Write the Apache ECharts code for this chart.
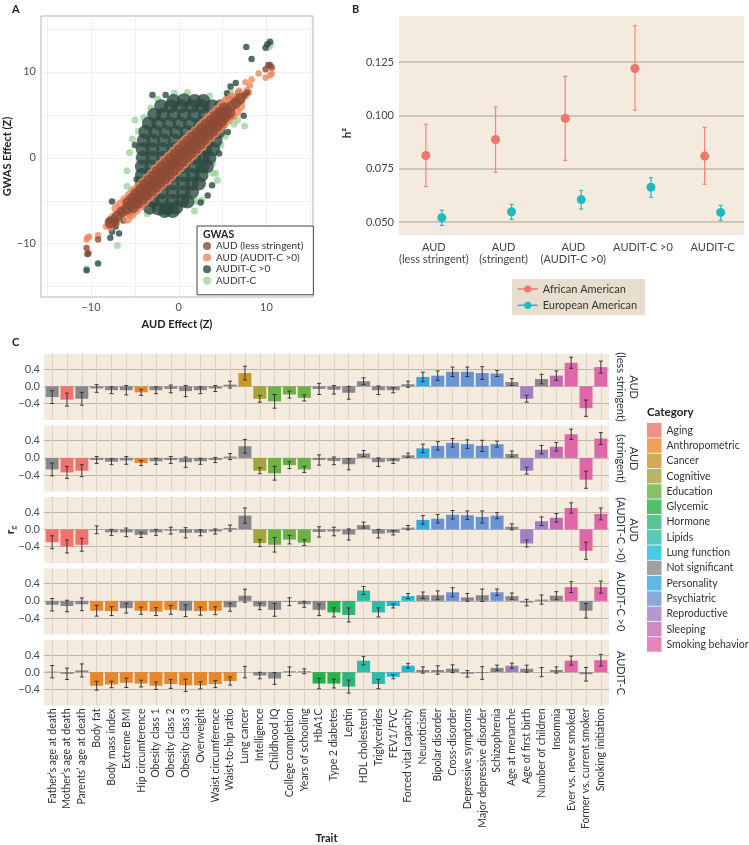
<!DOCTYPE html>
<html>
<head>
<meta charset="utf-8">
<script src="https://cdn.jsdelivr.net/npm/echarts@6.0.0/dist/echarts.min.js"></script>
<style>
html, body { margin: 0; padding: 0; background: #fff; }
#main { width: 749px; height: 845px; }
</style>
</head>
<body>
<div id="main"></div>
<script>
// ---- panel A: GWAS effect vs AUD effect ----
var auditCPts = [[-5,4.4],[-4,4.7],[-4.6,3.1],[-2.4,6.8],[-3.2,5.8],[-5.3,2.2],[-5.6,0.6],[3.9,-1.8],[4.2,-1.8],
  [3.9,-0.6],[2.6,-4.9],[2,-5.1],[-5.9,-3.3],[-5.4,-3.7],[6.3,3.9],[6.7,4.4],[5.9,7.7],[5.6,6],[6.2,5.2],[3.5,7.2],
  [1,7.6],[-0.5,7.5],[-5.8,-5.5],[-3.6,-6.5],[1.8,-6.2],[4.8,1.5],[5.3,2.5],[-7,-10.2],[-10.5,-12.9],[10.5,13.2],
  [10.3,12.9],[7.1,6.8],[7.5,3.7],[-6.6,-6.8],[-5.9,-1.5],[4.4,-2.6]];
var auditC0Core = [[-0.6,6.6],[0.6,6.7],[1.8,6.6],[2.8,6.6],
  [-2,6],[-0.9,6],[0.3,6],[1.5,6],[2.7,6],[3.8,6],[4.8,6],
  [-2.8,5],[-1.8,5],[-0.6,5],[0.6,5],[1.8,5],[3,5],[4.2,5],[5,5],
  [-3.4,4],[-2.3,4],[-1.1,4],[0.1,4],[1.3,4],[2.5,4],[3.7,4],[4.8,4],
  [-3.8,3],[-2.7,3],[-1.5,3],[-0.3,3],[0.9,3],[2.1,3],[3.3,3],[4.5,3],
  [-4,2],[-2.9,2],[-1.7,2],[-0.5,2],[0.7,2],[1.9,2],[3.1,2],[4.2,2],
  [-4.1,1],[-3,1],[-1.8,1],[-0.6,1],[0.6,1],[1.8,1],[3,1],[3.9,1],
  [-4.1,0],[-3,0],[-1.8,0],[-0.6,0],[0.6,0],[1.8,0],[2.8,0],[3.5,0],
  [-4.2,-1],[-3.1,-1],[-1.9,-1],[-0.7,-1],[0.5,-1],[1.7,-1],[2.7,-1],[3.2,-1],
  [-4.2,-2],[-3.1,-2],[-1.9,-2],[-0.7,-2],[0.5,-2],[1.6,-2],[2.6,-2],
  [-4.2,-3],[-3.1,-3],[-1.9,-3],[-0.7,-3],[0.5,-3],[1.5,-3],[2.3,-3],
  [-4.2,-4],[-3.1,-4],[-1.9,-4],[-0.7,-4],[0.5,-4],[1.5,-4],
  [-4.1,-5],[-3,-5],[-1.9,-5],[-0.7,-5],[0.4,-5],[1,-5.1],
  [-3.3,-5.8],[-2.3,-5.9],[-1.3,-5.9],[-0.3,-5.8],
  [-1.6,-6.2],[-0.7,-6.2]];
var auditC0Sparse = [[-5.8,-5.6],[-6.5,-6.2],[-7.6,-5.1],[-7.8,-9.3],[-7.6,-8.6],[-7.2,-8],[-6.8,-8.8],[-6.3,-7.3],
  [-5.6,-6.5],[-10.5,-13.1],[-9.2,-12.3],[-10.4,-11.2],[6.5,8.7],[5.9,8.3],[7.4,4.9],[7.7,12.9],[8.3,11.5],[9.9,12.8],
  [10.1,13.2],[10.4,13.5],[5.5,7.5],[6.8,7.6],[5.6,7],[6.2,6.8],[-5.5,-5.9],[3.3,-4.4],[3.8,-3.2],[-3,7.3],[6,4.8],
  [-4.8,-5.6],[-5,1.5],[-4.8,-2.5],[4.6,0.5],[5.6,3],[-1.5,7.3],[2.5,-5.2]];
var audAuditC0Band = [[-7.1,-5.9],[-5.9,-7.1],[-6.6,-5.4],[-5.4,-6.6],[-6.1,-4.9],[-4.9,-6.1],[-5.6,-4.4],[-4.4,-5.6],
  [-5.1,-3.9],[-3.9,-5.1],[-4.6,-3.4],[-3.4,-4.6],[-4.1,-2.9],[-2.9,-4.1],[-3.6,-2.4],[-2.4,-3.6],
  [-3.1,-1.9],[-1.9,-3.1],[-2.65,-1.35],[-1.35,-2.65],[-2.15,-0.85],[-0.85,-2.15],[-1.65,-0.35],[-0.35,-1.65],
  [-1.15,0.15],[0.15,-1.15],[-0.65,0.65],[0.65,-0.65],[-0.15,1.15],[1.15,-0.15],[0.35,1.65],[1.65,0.35],
  [0.85,2.15],[2.15,0.85],[1.35,2.65],[2.65,1.35],[1.9,3.1],[3.1,1.9],[2.4,3.6],[3.6,2.4],
  [2.9,4.1],[4.1,2.9],[3.4,4.6],[4.6,3.4],[3.9,5.1],[5.1,3.9],[4.4,5.6],[5.6,4.4],
  [4.9,6.1],[6.1,4.9],[5.4,6.6],[6.6,5.4],[6,7],[7,6],
  [-7.5,-7],[-7.8,-7.6],[7,6.6],[6.7,7.1],[7.5,7.3]];
var audAuditC0Sparse = [[-10.4,-9.3],[-10.5,-9.5],[-10.2,-9.2],[-9.2,-9],[9.1,9.8],[9.9,9.3],[10.4,9.6],[10.6,9.8],
  [8.3,9.1],[7.6,8.8],[8.1,8.4],[7.8,7.9],[6.9,7.8],[-7.8,-8.2],[-8.1,-7.4],[-7,-7.6],[8,7.6],[-8.3,-8]];
var audLessBand = [[-6,-6],[-5.5,-5.5],[-5,-5],[-4.5,-4.5],[-4,-4],[-3.5,-3.5],[-3,-3],[-2.5,-2.5],[-2,-2],
  [-1.5,-1.5],[-1,-1],[-0.5,-0.5],[0,0],[0.5,0.5],[1,1],[1.5,1.5],[2,2],[2.5,2.5],[3,3],[3.5,3.5],[4,4],
  [4.5,4.5],[5,5],[5.5,5.5],[6,6],
  [-5.8,-5.2],[-5.2,-5.8],[-5.3,-4.7],[-4.7,-5.3],[-4.85,-4.15],[-4.15,-4.85],[-4.35,-3.65],[-3.65,-4.35],
  [-3.9,-3.1],[-3.1,-3.9],[-3.4,-2.6],[-2.6,-3.4],[-2.9,-2.1],[-2.1,-2.9],[-2.45,-1.55],[-1.55,-2.45],
  [-1.95,-1.05],[-1.05,-1.95],[-1.45,-0.55],[-0.55,-1.45],[-0.95,-0.05],[-0.05,-0.95],[-0.45,0.45],[0.45,-0.45],
  [0.05,0.95],[0.95,0.05],[0.55,1.45],[1.45,0.55],[1.05,1.95],[1.95,1.05],[1.55,2.45],[2.45,1.55],
  [2.1,2.9],[2.9,2.1],[2.6,3.4],[3.4,2.6],[3.1,3.9],[3.9,3.1],[3.65,4.35],[4.35,3.65],
  [4.15,4.85],[4.85,4.15],[4.7,5.3],[5.3,4.7],[5.2,5.8],[5.8,5.2],
  [-6.5,-6.3],[-7,-6.8],[-7.4,-7.3],[-7.8,-7.6],[6.5,6.4],[7,6.9]];
var audLessSparse = [[-10.5,-10.5],[-10.3,-11.1],[-9.2,-9.5],[9.9,10.3],[10.2,10.8],[10.4,10.8],[10.6,10.5],
  [-7.9,-7.2],[-7.2,-7.6],[7.5,7.3],[7.8,7.6]];

// ---- panel B: SNP heritability ----
var h2Groups = ['AUD\n(less stringent)', 'AUD\n(stringent)', 'AUD\n(AUDIT-C >0)', 'AUDIT-C >0', 'AUDIT-C'];
var h2African = [0.0812, 0.0887, 0.0986, 0.1220, 0.0809];
var h2AfricanLo = [0.0666, 0.0733, 0.0789, 0.1025, 0.0677];
var h2AfricanHi = [0.0958, 0.1040, 0.1183, 0.1420, 0.0944];
var h2European = [0.0520, 0.0548, 0.0605, 0.0663, 0.0545];
var h2EuropeanLo = [0.0484, 0.0512, 0.0561, 0.0616, 0.0508];
var h2EuropeanHi = [0.0555, 0.0583, 0.0648, 0.0708, 0.0578];
var h2Ticks = [0.05, 0.075, 0.1, 0.125];

// ---- panel C: genetic correlations ----
var traits = ['Father’s age at death','Mother’s age at death','Parents’ age at death','Body fat','Body mass index',
  'Extreme BMI','Hip circumference','Obesity class 1','Obesity class 2','Obesity class 3','Overweight',
  'Waist circumference','Waist-to-hip ratio','Lung cancer','Intelligence','Childhood IQ','College completion',
  'Years of schooling','HbA1C','Type 2 diabetes','Leptin','HDL cholesterol','Triglycerides','FEV1/FVC',
  'Forced vital capacity','Neuroticism','Bipolar disorder','Cross-disorder','Depressive symptoms',
  'Major depressive disorder','Schizophrenia','Age at menarche','Age of first birth','Number of children',
  'Insomnia','Ever vs. never smoked','Former vs. current smoker','Smoking initiation'];
var gwasRows = ['AUD\n(less stringent)', 'AUD\n(stringent)', 'AUD\n(AUDIT-C >0)', 'AUDIT-C >0', 'AUDIT-C'];
var categories = ['Aging','Anthropometric','Cancer','Cognitive','Education','Glycemic','Hormone','Lipids',
  'Lung function','Not significant','Personality','Psychiatric','Reproductive','Sleeping','Smoking behavior'];
var categoryColors = ['#ef746d','#e8882c','#c8962d','#a3a53b','#6bb145','#26b24b','#31b57d','#2ebcaa',
  '#1dbcdc','#89898d','#36a8e0','#6b94d5','#9f80c5','#c36bb4','#e066a7'];
// one letter per category, same order as above
var categoryCodes = 'ancgeyhlfxpsrzk';

var rg1 = [-0.25,-0.31,-0.29,-0.05,-0.09,-0.09,-0.14,-0.09,-0.06,-0.11,-0.09,-0.05,0.04,0.31,-0.29,-0.35,-0.19,-0.27,
  -0.06,-0.08,-0.15,0.12,-0.09,-0.09,0.05,0.22,0.25,0.34,0.34,0.31,0.30,0.10,-0.29,0.17,0.25,0.55,-0.51,0.45];
var se1 = [0.15,0.15,0.15,0.09,0.08,0.11,0.07,0.08,0.09,0.13,0.08,0.07,0.08,0.16,0.08,0.16,0.08,0.07,
  0.13,0.10,0.15,0.08,0.10,0.06,0.07,0.11,0.11,0.11,0.11,0.15,0.07,0.08,0.08,0.11,0.11,0.13,0.19,0.14];
var cat1 = 'xaxxxxnxxxxxxcgeeexxxxxxxpsssssxrxzkkk';

var rg2 = [-0.27,-0.34,-0.30,-0.05,-0.09,-0.06,-0.12,-0.08,-0.05,-0.10,-0.08,-0.05,0.03,0.27,-0.30,-0.36,-0.17,-0.27,
  -0.05,-0.07,-0.15,0.10,-0.10,-0.08,0.06,0.22,0.28,0.35,0.32,0.28,0.32,0.09,-0.30,0.19,0.26,0.55,-0.51,0.45];
var se2 = [0.15,0.14,0.14,0.08,0.07,0.09,0.06,0.07,0.08,0.12,0.07,0.06,0.07,0.16,0.07,0.16,0.08,0.07,
  0.12,0.09,0.13,0.07,0.10,0.05,0.05,0.10,0.10,0.10,0.10,0.13,0.07,0.07,0.08,0.10,0.10,0.12,0.20,0.14];
var cat2 = 'xaaxxxnxxxxxxxgeeexxxxxxxpsssssxrrzkkk';

var rg3 = [-0.30,-0.40,-0.36,-0.01,-0.07,-0.07,-0.13,-0.07,-0.03,-0.08,-0.08,-0.05,0.03,0.32,-0.32,-0.36,-0.24,-0.31,
  -0.06,-0.05,-0.12,0.10,-0.10,-0.08,0.04,0.22,0.25,0.34,0.33,0.29,0.32,0.06,-0.33,0.19,0.27,0.50,-0.50,0.36];
var se3 = [0.15,0.15,0.15,0.09,0.07,0.10,0.06,0.07,0.08,0.12,0.07,0.06,0.07,0.18,0.08,0.17,0.10,0.07,
  0.12,0.10,0.13,0.07,0.10,0.05,0.05,0.10,0.10,0.10,0.10,0.14,0.07,0.07,0.08,0.10,0.10,0.12,0.20,0.14];
var cat3 = 'aaaxxxxxxxxxxxgeeexxxxxxxpsssssxrrzkkk';

var rg4 = [-0.09,-0.12,-0.08,-0.23,-0.24,-0.17,-0.23,-0.25,-0.21,-0.23,-0.24,-0.23,-0.15,0.12,-0.13,-0.21,-0.02,-0.08,
  -0.21,-0.27,-0.33,0.24,-0.27,-0.12,0.11,0.13,0.13,0.20,0.08,0.13,0.20,0.11,-0.04,0.03,0.12,0.32,-0.23,0.32];
var se4 = [0.145,0.134,0.149,0.126,0.103,0.115,0.084,0.092,0.103,0.137,0.095,0.092,0.092,0.153,0.076,0.149,0.092,0.069,
  0.134,0.107,0.164,0.095,0.107,0.046,0.061,0.076,0.103,0.107,0.092,0.145,0.076,0.073,0.076,0.107,0.095,0.126,0.168,0.141];
var cat4 = 'xxxnnxnnnxnnxxxxxxxyhllffxxsxxsxxxxkxk';

var rg5 = [0.01,-0.04,0.04,-0.32,-0.29,-0.25,-0.27,-0.32,-0.28,-0.31,-0.31,-0.28,-0.21,0.00,-0.08,-0.15,0.02,0.02,
  -0.27,-0.27,-0.34,0.27,-0.28,-0.11,0.15,0.05,0.05,0.08,-0.04,-0.02,0.10,0.15,0.08,0.00,0.05,0.27,-0.05,0.28];
var se5 = [0.145,0.134,0.153,0.103,0.076,0.111,0.080,0.088,0.103,0.145,0.084,0.084,0.095,0.134,0.076,0.137,0.103,0.057,
  0.122,0.103,0.153,0.099,0.111,0.046,0.057,0.073,0.099,0.092,0.076,0.149,0.065,0.061,0.084,0.107,0.073,0.107,0.160,0.137];
var cat5 = 'xxxnnnnnnnnnnxxxxxyyhllffxxxxxxrxxxkxk';

var rgTicks = [-0.4, 0, 0.4];

var rgRows = [rg1, rg2, rg3, rg4, rg5];
var seRows = [se1, se2, se3, se4, se5];
var catRows = [cat1, cat2, cat3, cat4, cat5];

var chart = echarts.init(document.getElementById('main'));
var FONT = 'Lato';

var minus = function (s) { return String(s).replace('-', '\u2212'); };

// error bar drawn through the axis scales
var errorBar = function (offset, capW, color, width) {
	return function (params, api) {
		var p1 = api.coord([api.value(0), api.value(1)]);
		var p2 = api.coord([api.value(0), api.value(2)]);
		var cx = p1[0] + offset;
		var st = { stroke: color, lineWidth: width };
		return {
			type: 'group',
			children: [
				{ type: 'line', shape: { x1: cx, y1: p1[1], x2: cx, y2: p2[1] }, style: st },
				{ type: 'line', shape: { x1: cx - capW, y1: p1[1], x2: cx + capW, y2: p1[1] }, style: st },
				{ type: 'line', shape: { x1: cx - capW, y1: p2[1], x2: cx + capW, y2: p2[1] }, style: st }
			]
		};
	};
};

var grids = [
	{ left: 41, top: 16, width: 272, height: 281, show: true, backgroundColor: '#fff', borderColor: '#b3b3b3', borderWidth: 1 },
	{ left: 399, top: 16, width: 345, height: 219, show: true, backgroundColor: '#f4eadd', borderWidth: 0 }
];
var xAxes = [
	{
		gridIndex: 0, type: 'value', min: -15.7, max: 15.3,
		axisLine: { show: false },
		axisTick: { show: false, customValues: [-15, -10, -5, 0, 5, 10, 15] },
		splitLine: { lineStyle: { color: '#ececec', width: 0.8 } },
		axisLabel: { customValues: [-10, 0, 10], formatter: minus, color: '#4d4d4d', fontSize: 11, margin: 5, fontFamily: FONT },
		name: 'AUD Effect (Z)', nameLocation: 'middle', nameGap: 22,
		nameTextStyle: { fontWeight: 'bold', fontSize: 11, color: '#222', fontFamily: FONT }
	},
	{
		gridIndex: 1, type: 'value', min: 0.5, max: 5.45,
		axisLine: { show: false },
		axisTick: { show: false, customValues: [1, 2, 3, 4, 5] },
		splitLine: { show: false },
		axisLabel: {
			customValues: [1, 2, 3, 4, 5], formatter: function (v) { return h2Groups[v - 1]; },
			color: '#444', fontSize: 11, lineHeight: 12.5, margin: 6, fontFamily: FONT
		}
	}
];
var yAxes = [
	{
		gridIndex: 0, type: 'value', min: -16.2, max: 16.5,
		axisLine: { show: false },
		axisTick: { show: false, customValues: [-15, -10, -5, 0, 5, 10, 15] },
		splitLine: { lineStyle: { color: '#ececec', width: 0.8 } },
		axisLabel: { customValues: [-10, 0, 10], formatter: minus, color: '#4d4d4d', fontSize: 11, margin: 5, fontFamily: FONT },
		name: 'GWAS Effect (Z)', nameLocation: 'middle', nameGap: 16,
		nameTextStyle: { fontWeight: 'bold', fontSize: 11, color: '#222', fontFamily: FONT }
	},
	{
		gridIndex: 1, type: 'value', min: 0.0439, max: 0.1466,
		axisLine: { show: false },
		axisTick: { show: false, customValues: h2Ticks },
		splitLine: { lineStyle: { color: '#bfb8ae', width: 1.6 } },
		axisLabel: { customValues: h2Ticks, formatter: function (v) { return v.toFixed(3); }, color: '#444', fontSize: 11, margin: 5, fontFamily: FONT }
	}
];

var series = [
	{ name: 'AUDIT-C', type: 'scatter', xAxisIndex: 0, yAxisIndex: 0, symbolSize: 7, itemStyle: { color: '#9fd49c' }, data: auditCPts },
	{ name: 'AUDIT-C >0', type: 'scatter', xAxisIndex: 0, yAxisIndex: 0, symbolSize: 14, itemStyle: { color: '#2c4a42' }, data: auditC0Core },
	{ name: 'AUDIT-C >0', type: 'scatter', xAxisIndex: 0, yAxisIndex: 0, symbolSize: 6.5, itemStyle: { color: '#2c4a42' }, data: auditC0Sparse },
	{ name: 'AUD (AUDIT-C >0)', type: 'scatter', xAxisIndex: 0, yAxisIndex: 0, symbolSize: 10, itemStyle: { color: '#f3875f' }, data: audAuditC0Band },
	{ name: 'AUD (AUDIT-C >0)', type: 'scatter', xAxisIndex: 0, yAxisIndex: 0, symbolSize: 6.5, itemStyle: { color: '#f3875f' }, data: audAuditC0Sparse },
	{ name: 'AUD (less stringent)', type: 'scatter', xAxisIndex: 0, yAxisIndex: 0, symbolSize: 11, itemStyle: { color: '#8d4a34' }, data: audLessBand },
	{ name: 'AUD (less stringent)', type: 'scatter', xAxisIndex: 0, yAxisIndex: 0, symbolSize: 6.5, itemStyle: { color: '#8d4a34' }, data: audLessSparse },

	{
		type: 'custom', xAxisIndex: 1, yAxisIndex: 1, z: 2,
		renderItem: errorBar(-8, 2, '#f0857c', 1.2),
		data: h2African.map(function (v, i) { return [i + 1, h2AfricanLo[i], h2AfricanHi[i]]; })
	},
	{
		type: 'custom', xAxisIndex: 1, yAxisIndex: 1, z: 2,
		renderItem: errorBar(8, 2, '#2bbcc0', 1.2),
		data: h2European.map(function (v, i) { return [i + 1, h2EuropeanLo[i], h2EuropeanHi[i]]; })
	},
	{
		name: 'African American', type: 'line', xAxisIndex: 1, yAxisIndex: 1, z: 3,
		symbol: 'circle', symbolSize: 9, symbolOffset: [-8, 0],
		itemStyle: { color: '#f0756d' }, lineStyle: { opacity: 0 },
		data: h2African.map(function (v, i) { return [i + 1, v]; })
	},
	{
		name: 'European American', type: 'line', xAxisIndex: 1, yAxisIndex: 1, z: 3,
		symbol: 'circle', symbolSize: 9, symbolOffset: [8, 0],
		itemStyle: { color: '#1dbbc0' }, lineStyle: { opacity: 0 },
		data: h2European.map(function (v, i) { return [i + 1, v]; })
	}
];

var traitPos = traits.map(function (t, i) { return i + 1; });
var graphics = [];

gwasRows.forEach(function (rowName, k) {
	var top = 354 + k * 71.5;
	grids.push({ left: 44, top: top, width: 565, height: 66, show: true, backgroundColor: '#f4eadd', borderWidth: 0 });
	xAxes.push({
		gridIndex: 2 + k, type: 'value', min: 0.45, max: 38.55,
		axisLine: { show: false },
		axisTick: { show: false, customValues: traitPos },
		splitLine: { lineStyle: { color: '#dcd2c5', width: 1 } },
		axisLabel: {
			show: k === 4, customValues: traitPos, rotate: 90, fontSize: 10.5, color: '#333', margin: 3, fontFamily: FONT,
			formatter: function (v) { return traits[v - 1]; }
		},
		name: k === 4 ? 'Trait' : '', nameLocation: 'middle', nameGap: 126,
		nameTextStyle: { fontWeight: 'bold', fontSize: 11, color: '#222', fontFamily: FONT }
	});
	yAxes.push({
		gridIndex: 2 + k, type: 'value', min: -0.785, max: 0.755,
		axisLine: { show: false },
		axisTick: { show: false, customValues: rgTicks },
		splitLine: { lineStyle: { color: '#bdb5aa', width: 1 } },
		axisLabel: { customValues: rgTicks, formatter: function (v) { return minus(v.toFixed(1)); }, color: '#4d4d4d', fontSize: 11, margin: 4, fontFamily: FONT }
	});
	var vals = rgRows[k], ses = seRows[k], cats = catRows[k];
	series.push({
		type: 'bar', xAxisIndex: 2 + k, yAxisIndex: 2 + k, barWidth: 13, z: 2,
		data: vals.map(function (v, i) {
			return { value: [i + 1, v], itemStyle: { color: categoryColors[categoryCodes.indexOf(cats.charAt(i))] } };
		})
	});
	series.push({
		type: 'custom', xAxisIndex: 2 + k, yAxisIndex: 2 + k, z: 3,
		renderItem: errorBar(0, 2, '#2b2b2b', 0.9),
		data: vals.map(function (v, i) { return [i + 1, v - ses[i], v + ses[i]]; })
	});
	graphics.push({
		type: 'text', x: 614, y: top + 33, rotation: -Math.PI / 2, z: 100,
		style: { text: rowName, align: 'center', verticalAlign: 'bottom', textAlign: 'center', textVerticalAlign: 'bottom',
			fontSize: 11, lineHeight: 13, fill: '#333', fontFamily: FONT }
	});
});

// empty series so the category legend has entries
categories.forEach(function (c, i) {
	series.push({ name: c, type: 'scatter', xAxisIndex: 2, yAxisIndex: 2, symbol: 'rect', itemStyle: { color: categoryColors[i] }, data: [] });
});

graphics.push(
	{ type: 'text', x: 12, y: 9, z: 100, style: { text: 'A', fontSize: 11, fontWeight: 'bold', fill: '#222', fontFamily: FONT, align: 'left', verticalAlign: 'middle' } },
	{ type: 'text', x: 352, y: 9, z: 100, style: { text: 'B', fontSize: 11, fontWeight: 'bold', fill: '#222', fontFamily: FONT, align: 'left', verticalAlign: 'middle' } },
	{ type: 'text', x: 12, y: 342, z: 100, style: { text: 'C', fontSize: 11, fontWeight: 'bold', fill: '#222', fontFamily: FONT, align: 'left', verticalAlign: 'middle' } },
	{ type: 'text', x: 203, y: 235, z: 100, style: { text: 'GWAS', fontSize: 10.5, fontWeight: 'bold', fill: '#222', fontFamily: FONT, align: 'left', verticalAlign: 'middle' } },
	{ type: 'text', x: 647, y: 412, z: 100, style: { text: 'Category', fontSize: 11.5, fontWeight: 'bold', fill: '#222', fontFamily: FONT, align: 'left', verticalAlign: 'middle' } },
	{ type: 'text', x: 347, y: 133, rotation: Math.PI / 2, z: 100, style: { text: 'h²', fontSize: 11.5, fontWeight: 'bold', fill: '#222', fontFamily: FONT, align: 'center', verticalAlign: 'middle' } },
	{
		type: 'text', x: 10, y: 530, rotation: Math.PI / 2, z: 100,
		style: {
			text: '{r|r}{g|g}', align: 'center', verticalAlign: 'middle', fontFamily: FONT,
			rich: { r: { fontSize: 12, fontWeight: 'bold', lineHeight: 15, fill: '#222', fontFamily: FONT }, g: { fontSize: 8, verticalAlign: 'bottom', fill: '#222', fontFamily: FONT } }
		}
	}
);

var option = {
	animation: false,
	backgroundColor: '#fff',
	textStyle: { fontFamily: FONT },
	grid: grids,
	xAxis: xAxes,
	yAxis: yAxes,
	legend: [
		{
			data: ['AUD (less stringent)', 'AUD (AUDIT-C >0)', 'AUDIT-C >0', 'AUDIT-C'],
			orient: 'vertical', left: 197, top: 226, padding: [15, 10, 9, 6],
			backgroundColor: '#fff', borderColor: '#444', borderWidth: 1,
			icon: 'circle', itemWidth: 8, itemHeight: 8, itemGap: 1.6, selectedMode: false,
			textStyle: { fontSize: 10, color: '#333', lineHeight: 8, fontFamily: FONT }
		},
		{
			data: ['African American', 'European American'],
			orient: 'vertical', left: 512, top: 279, padding: [4, 8, 4, 5],
			backgroundColor: '#e8decd', itemWidth: 20, itemHeight: 9, itemGap: 4.3, selectedMode: false,
			lineStyle: { opacity: 1, width: 1.5 },
			textStyle: { fontSize: 11, color: '#333', lineHeight: 12, fontFamily: FONT }
		},
		{
			data: categories,
			orient: 'vertical', left: 647, top: 423, padding: 0,
			icon: 'rect', itemWidth: 14.5, itemHeight: 14.5, itemGap: 0.8, selectedMode: false,
			textStyle: { fontSize: 10.5, color: '#333', fontFamily: FONT }
		}
	],
	graphic: graphics,
	series: series
};
chart.setOption(option);
</script>
</body>
</html>
